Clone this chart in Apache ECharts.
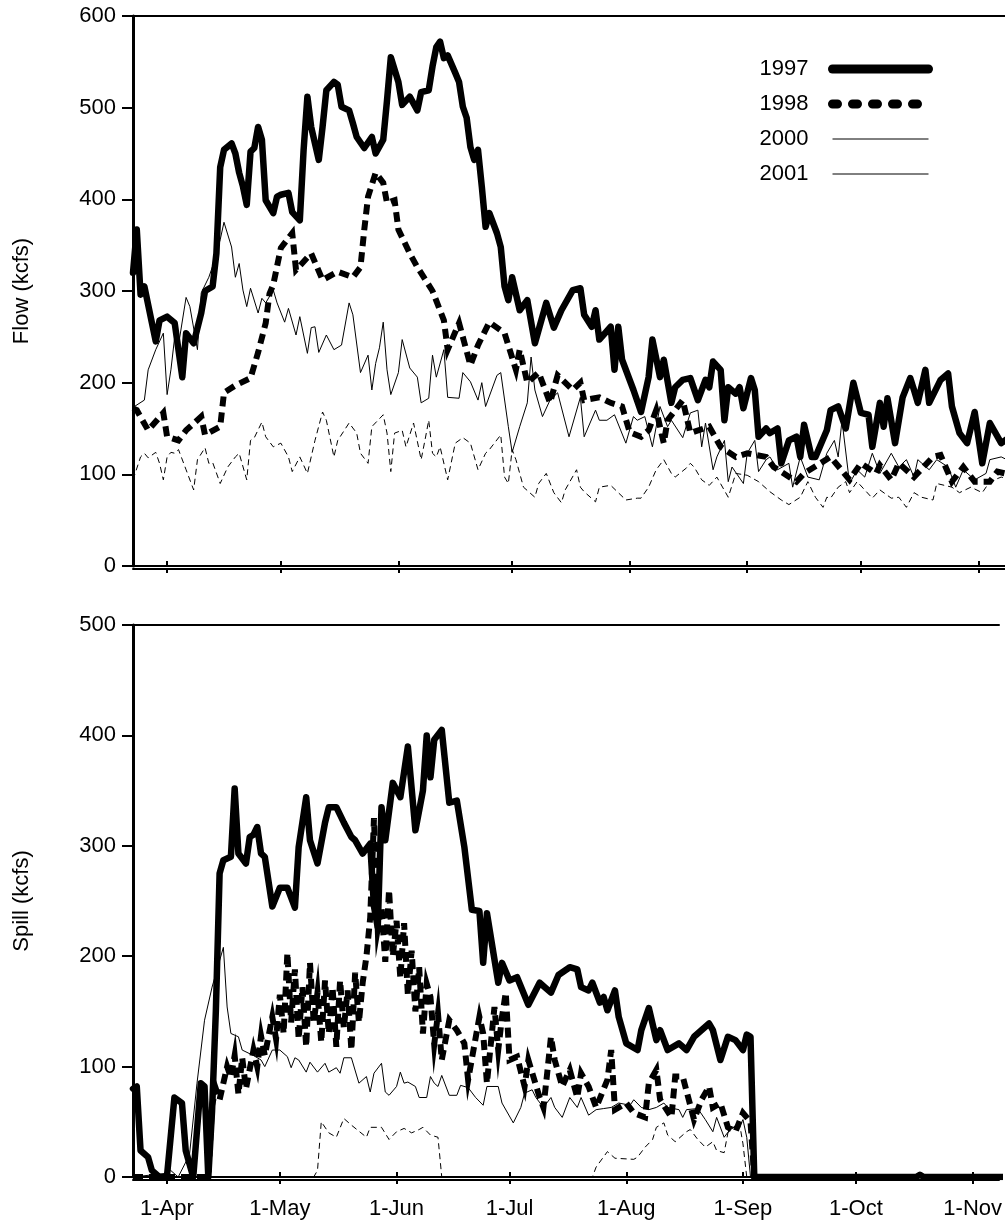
<!DOCTYPE html>
<html>
<head>
<meta charset="utf-8">
<title>Flow and Spill</title>
<script src="https://cdn.jsdelivr.net/npm/echarts@6/dist/echarts.min.js"></script>
<style>
  html, body { margin: 0; padding: 0; background: #fff; }
  #chart { width: 1005px; height: 1224px; }
</style>
</head>
<body>
<div id="chart"></div>
<script>
// Daily values as [days after 23 March, kcfs]
const years = ['1997', '1998', '2000', '2001'];
const tickLabels = ['1-Apr', '1-May', '1-Jun', '1-Jul', '1-Aug', '1-Sep', '1-Oct', '1-Nov'];
const flowTicks = [0, 100, 200, 300, 400, 500, 600];
const spillTicks = [0, 100, 200, 300, 400, 500];

const flow1997 = [[0,320],[1,367],[2,296],[3,305],[5,265],[6,245],[7,268],[9,272],[11,265],[13,206],[14,254],[16,243],[18,276],[19,300],[21,305],[22,341],[23,435],[24,454],[26,461],[27,450],[28,429],[29,414],[30,394],[31,452],[32,456],[33,479],[34,465],[35,399],[37,385],[38,403],[39,405],[41,407],[42,386],[44,377],[45,454],[46,512],[47,479],[49,443],[50,479],[51,519],[53,528],[54,525],[55,501],[57,497],[58,483],[59,468],[61,456],[63,468],[64,450],[66,465],[67,508],[68,555],[70,528],[71,503],[73,512],[75,497],[76,517],[78,519],[79,545],[80,566],[81,572],[82,554],[83,557],[85,538],[86,528],[87,501],[88,489],[89,457],[90,443],[91,454],[92,414],[93,370],[94,385],[96,363],[97,348],[98,305],[99,290],[100,315],[102,279],[104,290],[106,243],[109,287],[111,260],[113,279],[116,301],[118,303],[119,274],[121,261],[122,279],[123,247],[126,261],[127,214],[128,261],[129,225],[132,192],[134,168],[136,206],[137,247],[139,206],[140,225],[142,178],[143,195],[145,203],[147,205],[149,181],[151,203],[152,195],[153,223],[155,214],[156,159],[157,195],[159,188],[160,195],[161,172],[163,205],[164,192],[165,141],[167,150],[168,145],[170,150],[171,112],[173,137],[175,141],[176,119],[177,154],[179,119],[180,119],[183,148],[184,170],[186,174],[188,150],[190,200],[192,167],[194,165],[195,130],[197,178],[198,152],[199,183],[201,134],[203,184],[205,205],[206,192],[207,178],[209,214],[210,178],[213,203],[215,210],[216,174],[218,145],[220,134],[222,168],[224,112],[226,156],[229,134],[231,140]];

const flow1998 = [[0,172],[1,170],[4,148],[8,167],[9,141],[12,137],[14,148],[18,163],[19,143],[23,152],[24,189],[27,197],[31,205],[33,233],[35,265],[36,297],[37,307],[39,347],[42,363],[43,323],[47,341],[50,312],[54,321],[58,315],[60,326],[61,367],[62,403],[64,429],[66,418],[67,396],[69,399],[70,367],[73,341],[75,326],[79,300],[82,268],[83,236],[86,265],[89,219],[91,241],[94,266],[98,254],[101,214],[102,236],[104,200],[107,211],[110,178],[112,208],[116,192],[118,200],[119,181],[123,184],[126,178],[129,174],[131,146],[134,141],[136,148],[138,170],[140,134],[141,159],[145,181],[147,145],[152,152],[155,130],[159,119],[162,123],[167,119],[169,108],[175,92],[177,101],[184,119],[189,94],[192,112],[196,101],[197,110],[200,94],[202,112],[206,97],[211,119],[213,121],[216,92],[219,108],[222,92],[226,92],[228,103],[231,100]];

const flow2000 = [[0,173],[3,181],[4,214],[6,236],[8,254],[9,187],[10,214],[11,250],[12,241],[14,293],[15,283],[17,236],[18,298],[20,315],[21,327],[23,356],[24,375],[26,348],[27,315],[28,330],[29,301],[30,283],[31,303],[33,276],[34,292],[35,287],[37,301],[38,287],[40,266],[41,281],[43,252],[44,272],[46,232],[47,260],[48,261],[49,233],[51,252],[53,236],[55,241],[57,287],[58,274],[60,211],[62,230],[63,192],[64,221],[65,238],[66,266],[67,214],[68,187],[70,211],[71,247],[73,216],[75,206],[76,178],[78,183],[79,230],[80,206],[82,236],[83,184],[86,183],[87,211],[89,201],[91,181],[92,200],[93,174],[96,208],[97,211],[99,152],[100,124],[102,152],[104,178],[105,228],[106,192],[108,163],[110,181],[112,189],[115,141],[118,184],[119,141],[122,170],[123,159],[125,159],[127,165],[130,134],[132,163],[133,159],[135,163],[137,130],[139,174],[141,152],[142,159],[145,140],[147,167],[149,170],[150,130],[151,156],[153,105],[154,119],[156,137],[157,92],[158,108],[161,90],[162,123],[164,137],[165,103],[167,116],[168,119],[170,105],[173,112],[174,86],[176,119],[178,97],[181,94],[183,123],[185,137],[186,119],[187,159],[189,90],[191,105],[193,97],[195,123],[197,101],[200,123],[202,108],[204,116],[206,97],[207,116],[210,105],[212,116],[215,108],[217,86],[219,105],[222,94],[225,101],[226,116],[229,119],[231,115]];

const flow2001 = [[0,94],[2,119],[3,123],[4,118],[6,124],[7,112],[8,94],[9,119],[10,124],[11,123],[12,127],[14,105],[16,83],[17,116],[19,129],[20,112],[21,113],[23,90],[25,108],[27,119],[28,123],[30,94],[31,137],[32,140],[34,157],[35,141],[37,130],[39,134],[41,119],[42,103],[44,119],[46,101],[47,119],[48,137],[50,168],[51,159],[53,119],[54,137],[57,156],[59,145],[60,123],[62,112],[63,152],[66,165],[67,145],[68,103],[69,145],[71,148],[72,130],[74,156],[76,116],[77,137],[78,159],[79,123],[80,119],[81,130],[83,94],[85,134],[87,140],[89,134],[91,105],[93,123],[94,127],[97,143],[98,97],[99,90],[100,127],[101,116],[103,86],[106,75],[107,90],[109,101],[111,80],[113,69],[114,83],[117,105],[118,86],[119,81],[122,70],[123,86],[126,88],[128,80],[130,72],[133,74],[134,74],[136,86],[138,105],[140,116],[142,101],[143,97],[146,107],[147,112],[148,108],[150,94],[152,88],[154,97],[157,75],[159,101],[162,99],[165,92],[168,81],[171,72],[173,67],[176,75],[178,92],[180,75],[182,64],[183,75],[184,74],[186,86],[188,92],[189,80],[191,92],[195,74],[197,83],[200,74],[202,75],[204,64],[206,80],[208,75],[211,72],[212,90],[216,86],[218,80],[221,86],[224,80],[226,92],[229,97],[231,95]];

const spill1997 = [[0,80],[1,82],[2,24],[4,18],[5,6],[7,0],[9,0],[11,72],[13,67],[14,24],[16,0],[18,85],[19,82],[20,0],[21,60],[22,150],[23,275],[24,287],[26,290],[27,352],[28,293],[30,284],[31,308],[32,310],[33,317],[34,293],[35,290],[37,245],[39,262],[41,262],[42,253],[43,244],[44,299],[46,344],[47,305],[49,284],[51,321],[52,335],[54,335],[56,321],[58,308],[59,305],[61,293],[63,302],[64,245],[65,226],[66,335],[67,305],[69,357],[71,344],[73,390],[75,314],[77,350],[78,400],[79,362],[80,396],[82,405],[84,339],[86,341],[88,299],[90,242],[92,241],[93,194],[94,239],[97,176],[98,194],[100,178],[102,181],[105,156],[108,176],[111,167],[113,183],[116,190],[118,188],[119,172],[121,169],[122,176],[124,158],[125,163],[126,151],[128,169],[129,145],[131,121],[134,115],[135,133],[137,153],[139,124],[140,133],[142,115],[145,121],[147,115],[149,127],[153,139],[154,133],[156,106],[158,127],[160,124],[162,115],[163,129],[164,127],[165,0],[208,0],[209,2],[210,0],[234,0]];

const spill1998 = [[0,0],[20,0],[21,65],[22,80],[23,70],[25,100],[26,90],[27,110],[28,75],[29,108],[30,80],[32,115],[33,100],[34,128],[35,110],[37,145],[38,125],[39,165],[40,130],[41,203],[42,140],[43,188],[44,125],[45,172],[46,118],[47,194],[48,140],[49,167],[50,122],[51,178],[52,130],[53,172],[54,118],[55,178],[56,135],[57,169],[58,115],[59,185],[60,140],[61,176],[62,200],[63,235],[64,325],[65,225],[66,245],[67,195],[68,260],[69,200],[70,232],[71,180],[72,230],[73,165],[74,205],[75,150],[76,190],[77,130],[78,175],[79,163],[80,120],[81,148],[82,106],[84,142],[86,133],[88,121],[89,88],[92,145],[93,130],[94,85],[96,154],[97,115],[98,145],[99,167],[100,106],[102,109],[104,82],[105,106],[108,72],[109,63],[110,94],[111,127],[112,106],[114,82],[116,97],[118,72],[119,94],[121,82],[123,63],[126,88],[127,115],[128,61],[131,67],[133,58],[136,54],[137,85],[139,97],[140,70],[143,54],[144,91],[146,91],[149,52],[151,70],[153,82],[154,63],[156,67],[158,45],[160,41],[162,58],[163,54],[164,50],[165,0],[234,0]];

const spill2000 = [[0,0],[8,3],[10,6],[12,0],[15,20],[17,85],[19,142],[21,172],[24,208],[25,154],[26,130],[28,127],[29,115],[32,110],[34,106],[35,100],[37,115],[39,115],[41,109],[42,99],[43,108],[44,106],[46,95],[47,104],[49,95],[51,103],[52,95],[54,99],[55,94],[56,108],[58,108],[60,85],[62,91],[63,77],[64,94],[66,103],[67,77],[68,74],[70,82],[71,95],[72,85],[73,86],[75,82],[76,72],[78,72],[79,91],[80,85],[81,82],[82,92],[84,74],[86,74],[87,83],[89,81],[91,72],[93,65],[94,82],[97,82],[98,67],[101,49],[103,63],[104,76],[106,79],[107,72],[109,63],[111,72],[112,63],[114,54],[116,72],[118,63],[119,72],[121,56],[123,61],[125,62],[127,63],[129,67],[132,65],[133,70],[135,63],[137,61],[139,63],[141,67],[142,63],[145,61],[146,54],[147,61],[150,62],[152,52],[154,41],[155,54],[157,36],[159,45],[161,45],[162,52],[163,36],[164,0],[234,0]];

const spill2001 = [[0,0],[48,0],[49,6],[50,50],[52,40],[54,36],[56,53],[58,47],[62,36],[63,45],[66,45],[68,34],[70,41],[72,44],[74,40],[76,43],[77,45],[79,38],[81,36],[82,0],[122,0],[123,9],[126,23],[128,17],[133,16],[134,18],[136,27],[138,34],[139,45],[141,49],[142,38],[144,32],[147,41],[148,43],[150,34],[152,27],[154,32],[155,24],[157,22],[158,40],[161,50],[162,30],[163,0],[234,0]];

const flowByYear = { '1997': flow1997, '1998': flow1998, '2000': flow2000, '2001': flow2001 };
const spillByYear = { '1997': spill1997, '1998': spill1998, '2000': spill2000, '2001': spill2001 };

// Day numbers count from 23 March of a common (non-leap) year; the view ends on 8 November
const DAY0 = new Date(2001, 2, 23);
const LAST_DAY = 230;
const MS_DAY = 86400000;
const tickDays = tickLabels.map((_, i) =>
  Math.round((new Date(2001, 3 + i, 1) - DAY0) / MS_DAY));

const FONT = '"Liberation Sans", Arial, Helvetica, sans-serif';
const INK = '#000';

const lineStyles = {
  '1997': { color: INK, width: 6.5, type: 'solid', cap: 'round', join: 'round' },
  '1998': { color: INK, width: 6, type: [10, 6], cap: 'butt', join: 'miter' },
  '2000': { color: INK, width: 1, type: 'solid' },
  '2001': { color: INK, width: 1, type: [6, 4] }
};
const legendStyles = {
  '1997': { color: INK, width: 9, type: 'solid', cap: 'round' },
  '1998': { color: INK, width: 9, type: [5, 15], cap: 'round' },
  '2000': { color: INK, width: 1, type: 'solid' },
  '2001': { color: INK, width: 1, type: 'solid' }
};

const monthLabel = v => {
  const i = tickDays.indexOf(Math.round(v));
  return i >= 0 ? tickLabels[i] : '';
};

function dayAxis(gridIndex, opts) {
  const base = {
    type: 'value',
    gridIndex: gridIndex,
    position: 'bottom',
    min: 0,
    max: LAST_DAY,
    splitLine: { show: false },
    axisLine: { show: true, onZero: false, lineStyle: { color: INK, width: 2 } },
    axisTick: { show: false },
    axisLabel: { show: false }
  };
  return Object.assign(base, opts);
}

function valueAxis(gridIndex, ticks, name) {
  return {
    type: 'value',
    gridIndex: gridIndex,
    min: ticks[0],
    max: ticks[ticks.length - 1],
    interval: ticks[1] - ticks[0],
    name: name,
    nameLocation: 'middle',
    nameGap: 100,
    nameTextStyle: { color: INK, fontSize: 22, fontFamily: FONT },
    splitLine: { show: false },
    axisLine: { show: true, lineStyle: { color: INK, width: 3 } },
    axisTick: { show: true, length: 11, lineStyle: { color: INK, width: 2 } },
    axisLabel: { color: INK, fontSize: 22, fontFamily: FONT, margin: 17 }
  };
}

const innerTick = { show: true, inside: true, length: 5, customValues: tickDays, lineStyle: { color: INK, width: 2 } };
const outerTick = { show: true, length: 4, customValues: tickDays, lineStyle: { color: INK, width: 2 } };

const series = [];
years.slice().reverse().forEach(y => {
  const z = 10 - years.indexOf(y);
  series.push({
    name: y, type: 'line', xAxisIndex: 0, yAxisIndex: 0,
    data: flowByYear[y], symbol: 'none', showSymbol: false,
    itemStyle: { color: INK }, lineStyle: lineStyles[y], z: z
  });
  series.push({
    name: y, type: 'line', xAxisIndex: 2, yAxisIndex: 1,
    data: spillByYear[y], symbol: 'none', showSymbol: false,
    itemStyle: { color: INK }, lineStyle: lineStyles[y], z: z
  });
});

const option = {
  animation: false,
  backgroundColor: '#fff',
  textStyle: { fontFamily: FONT },
  grid: [
    { left: 133, top: 16, right: 0, height: 550 },
    { left: 133, top: 625, right: 0, height: 552 }
  ],
  xAxis: [
    dayAxis(0, { axisTick: innerTick }),
    dayAxis(0, { offset: 3, axisTick: outerTick }),
    dayAxis(1, {
      axisTick: innerTick,
      axisLabel: { show: true, customValues: tickDays, formatter: monthLabel, color: INK, fontSize: 22, fontFamily: FONT, margin: 21 }
    }),
    dayAxis(1, { offset: 3, axisTick: outerTick }),
    // frame lines along the top of each panel
    dayAxis(0, { position: 'top' }),
    dayAxis(1, { position: 'top' })
  ],
  yAxis: [
    valueAxis(0, flowTicks, 'Flow (kcfs)'),
    valueAxis(1, spillTicks, 'Spill (kcfs)')
  ],
  legend: {
    data: years.map(y => ({ name: y, lineStyle: legendStyles[y], itemStyle: { opacity: 0 } })),
    orient: 'vertical',
    right: 67,
    top: 53,
    align: 'right',
    itemWidth: 96,
    itemHeight: 14,
    itemGap: 13,
    selectedMode: false,
    textStyle: { color: INK, fontSize: 22, fontFamily: FONT, lineHeight: 22, padding: [0, 19, 0, 0] }
  },
  series: series
};

const chart = echarts.init(document.getElementById('chart'), null, { renderer: 'canvas' });
chart.setOption(option);
</script>
</body>
</html>
